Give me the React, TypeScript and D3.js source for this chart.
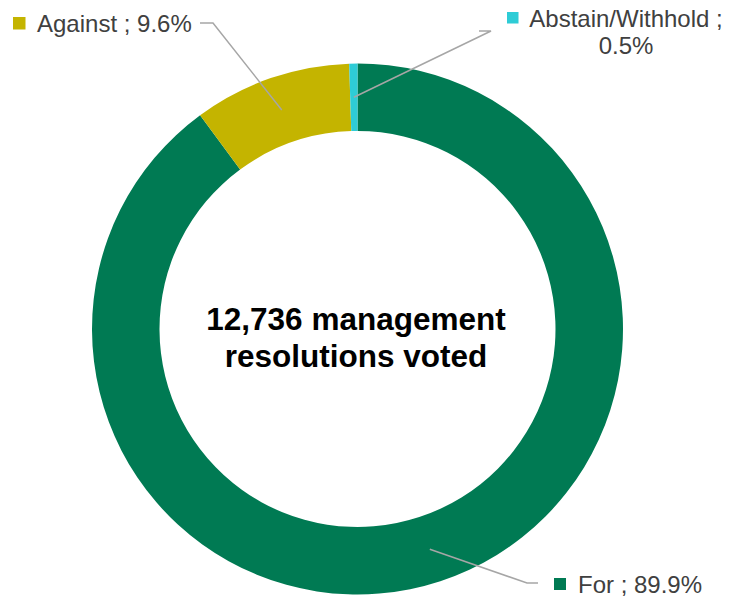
import React from "react";
import * as d3 from "d3";

const categories = ["For", "Against", "Abstain/Withhold"];
const values = [89.9, 9.6, 0.5];
const colors = ["#007A53", "#C4B400", "#2ECCD6"];
const centerLines = ["12,736 management", "resolutions voted"];

const W = 729;
const H = 598;
const cx = 357.5;
const cy = 329;
const outerR = 265.5;
const innerR = 198;
const FONT = "'Liberation Sans', Arial, sans-serif";
const TEXT = "#404040";
const LEADER = "#A6A6A6";

export default function App() {
  const pie = d3.pie<number>().sort(null).value((d) => d);
  const arcs = pie(values);
  const arc = d3.arc<d3.PieArcDatum<number>>().innerRadius(innerR).outerRadius(outerR);
  const fmt = (v: number) => `${v.toFixed(1)}%`;

  // leader line anchors near labels (layout)
  const leaderEnds: [number, number][][] = [
    [[527, 583], [538, 583]],
    [[213, 23], [200, 23]],
    [[491, 31], [479, 31]],
  ];

  return (
    <svg
      width={W}
      height={H}
      style={{ position: "absolute", left: 0, top: 0, background: "#fff" }}
      fontFamily={FONT}
    >
      <g transform={`translate(${cx},${cy})`}>
        {arcs.map((a, i) => (
          <path key={i} d={arc(a) || ""} fill={colors[i]} />
        ))}
      </g>
      {arcs.map((a, i) => {
        const [x, y] = arc.centroid(a);
        const pts: [number, number][] = [[cx + x, cy + y], ...leaderEnds[i]];
        return (
          <path
            key={"l" + i}
            d={d3.line()(pts) || ""}
            fill="none"
            stroke={LEADER}
            strokeWidth={1.5}
          />
        );
      })}
      {/* For label */}
      <rect x={554} y={578} width={12} height={12} fill={colors[0]} />
      <text x={578} y={593} fontSize={24} fill={TEXT}>
        {`${categories[0]} ; ${fmt(values[0])}`}
      </text>
      {/* Against label */}
      <rect x={13} y={17} width={12.5} height={12.5} fill={colors[1]} />
      <text x={37} y={31.5} fontSize={24} fill={TEXT}>
        {`${categories[1]} ; ${fmt(values[1])}`}
      </text>
      {/* Abstain label */}
      <rect x={507} y={12} width={11.5} height={11.5} fill={colors[2]} />
      <text x={626} y={26.5} fontSize={24} fill={TEXT} textAnchor="middle">
        {`${categories[2]} ;`}
      </text>
      <text x={626} y={53.5} fontSize={24} fill={TEXT} textAnchor="middle">
        {fmt(values[2])}
      </text>
      {/* center text */}
      {centerLines.map((t, i) => (
        <text
          key={"c" + i}
          x={356}
          y={330 + i * 36.5}
          fontSize={31.5}
          fontWeight="bold"
          fill="#000"
          textAnchor="middle"
        >
          {t}
        </text>
      ))}
    </svg>
  );
}
